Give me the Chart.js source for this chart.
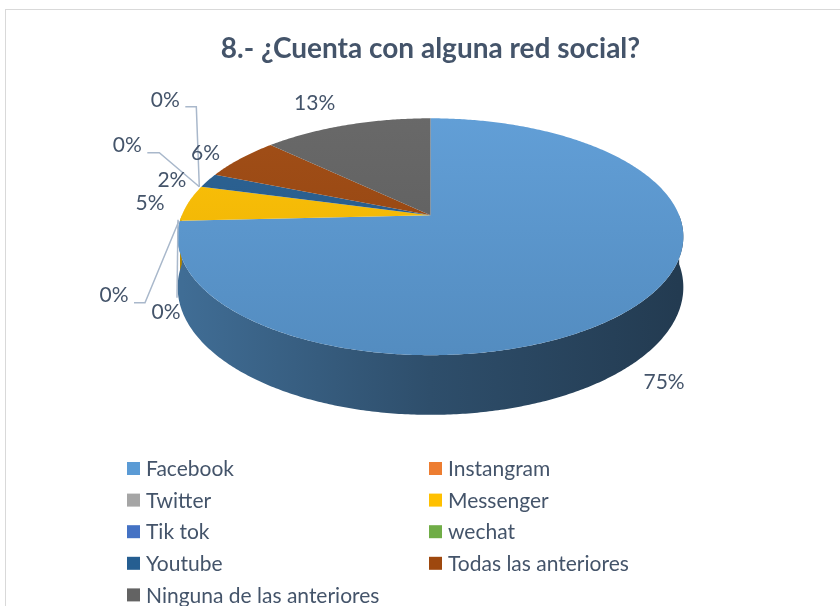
<!DOCTYPE html>
<html>
<head>
<meta charset="utf-8">
<script src="https://cdn.jsdelivr.net/npm/chart.js@4"></script>
<style>
	body { margin: 0; background: #fff; }
	#marco { position: absolute; left: 5px; top: 9px; width: 900px; height: 700px; border: 1px solid #d9d9d9; }
	#caja { position: absolute; left: 0; top: 0; width: 840px; height: 606px; }
</style>
</head>
<body>
<div id="marco"></div>
<div id="caja"><canvas id="torta"></canvas></div>
<script>
const categorias = ["Facebook", "Instangram", "Twitter", "Messenger", "Tik tok", "wechat", "Youtube", "Todas las anteriores", "Ninguna de las anteriores"];
const porcentajes = [75, 0, 0, 5, 0, 0, 2, 6, 13];
const colores = ["#5b9bd5", "#ed7d31", "#a5a5a5", "#ffc000", "#4472c4", "#70ad47", "#255e91", "#9e480e", "#636363"];

// inclinación del pastel 3D (relativa al radio que calcula Chart.js)
const INCL = { ax: 1.78, ay: 0.82, k: 0.181, alto: 0.35 };
const colorTexto = "#44546a";

// donde van las etiquetas respecto al borde de cada porción (estilo)
const posEtiquetas = [
	{ d: [28, 77] },
	{ d: [-14, 92], guia: [[-2, -1], [-3, 77]] },
	{ d: [-66, 75], guia: [[-1, 0], [-35, 82], [-46, 82]] },
	{ d: [-38, 0] },
	{ d: [-74, -41], guia: [[-2, 0], [-42, -34], [-54, -34]] },
	{ d: [-36, -86], guia: [[-2, 0], [-5, -80], [-16, -80]] },
	{ d: [-36, 0] },
	{ d: [-35, -5] },
	{ d: [-32, -22] }
];

function tono(hex, f) {
	let r = parseInt(hex.slice(1, 3), 16), g = parseInt(hex.slice(3, 5), 16), b = parseInt(hex.slice(5, 7), 16);
	if (f < 0) { r *= 1 + f; g *= 1 + f; b *= 1 + f; }
	else { r += (255 - r) * f; g += (255 - g) * f; b += (255 - b) * f; }
	return `rgb(${Math.round(r)}, ${Math.round(g)}, ${Math.round(b)})`;
}

function proyectar(arc, ang, abajo) {
	const u = Math.cos(ang), v = Math.sin(ang);
	const w = 1 - INCL.k * v;
	const R = arc.outerRadius;
	return {
		x: arc.x + R * INCL.ax * u / w,
		y: arc.y + R * INCL.ay * v / w + (abajo ? R * INCL.alto / w : 0)
	};
}

const pastel3d = {
	id: 'pastel3d',
	beforeDatasetsDraw(chart) {
		const ctx = chart.ctx;
		const arcos = chart.getDatasetMeta(0).data;
		const R = arcos[0].outerRadius, cx = arcos[0].x, cy = arcos[0].y;
		ctx.save();
		// lados (solo la mitad de adelante se ve)
		arcos.forEach((arc, i) => {
			const a = Math.max(arc.startAngle, 0), b = Math.min(arc.endAngle, Math.PI);
			if (b <= a) return;
			ctx.beginPath();
			for (let t = a; t <= b; t += 0.01) {
				const p = proyectar(arc, t, false);
				ctx.lineTo(p.x, p.y);
			}
			let p = proyectar(arc, b, false); ctx.lineTo(p.x, p.y);
			for (let t = b; t >= a; t -= 0.01) {
				p = proyectar(arc, t, true);
				ctx.lineTo(p.x, p.y);
			}
			p = proyectar(arc, a, true); ctx.lineTo(p.x, p.y);
			ctx.closePath();
			const grad = ctx.createLinearGradient(cx - R * INCL.ax, 0, cx + R * INCL.ax, 0);
			grad.addColorStop(0, tono(colores[i], -0.3));
			grad.addColorStop(0.5, tono(colores[i], -0.5));
			grad.addColorStop(1, tono(colores[i], -0.62));
			ctx.fillStyle = grad;
			ctx.fill();
		});
		// caras de arriba
		arcos.forEach((arc, i) => {
			if (arc.endAngle - arc.startAngle <= 0) return;
			ctx.beginPath();
			ctx.moveTo(arc.x, arc.y);
			for (let t = arc.startAngle; t <= arc.endAngle; t += 0.01) {
				const p = proyectar(arc, t, false);
				ctx.lineTo(p.x, p.y);
			}
			const p = proyectar(arc, arc.endAngle, false);
			ctx.lineTo(p.x, p.y);
			ctx.closePath();
			const grad = ctx.createLinearGradient(0, cy - R * INCL.ay * 0.9, 0, cy + R * INCL.ay * 1.7);
			grad.addColorStop(0, tono(colores[i], 0.04));
			grad.addColorStop(1, tono(colores[i], -0.12));
			ctx.fillStyle = grad;
			ctx.fill();
		});
		ctx.restore();
		return false;
	},
	afterDraw(chart) {
		const ctx = chart.ctx;
		const arcos = chart.getDatasetMeta(0).data;
		ctx.save();
		ctx.font = "21px Lato";
		ctx.textAlign = "center";
		ctx.textBaseline = "middle";
		arcos.forEach((arc, i) => {
			const ancla = proyectar(arc, (arc.startAngle + arc.endAngle) / 2, false);
			const pos = posEtiquetas[i];
			if (pos.guia) {
				ctx.beginPath();
				pos.guia.forEach(g => ctx.lineTo(ancla.x + g[0], ancla.y + g[1]));
				ctx.strokeStyle = "#a9b8cb";
				ctx.lineWidth = 1.5;
				ctx.stroke();
			}
			ctx.fillStyle = colorTexto;
			ctx.fillText(porcentajes[i] + "%", ancla.x + pos.d[0], ancla.y + pos.d[1]);
		});
		// leyenda en dos columnas
		ctx.textAlign = "left";
		categorias.forEach((nombre, i) => {
			const col = i % 2, fila = Math.floor(i / 2);
			const x = col === 0 ? 127 : 429;
			const y = 468.5 + fila * 31.6;
			ctx.fillStyle = colores[i];
			ctx.fillRect(x, y - 6.5, 13, 13);
			ctx.fillStyle = colorTexto;
			ctx.fillText(nombre, x + 19, y + 1);
		});
		ctx.restore();
	}
};

const torta = new Chart(document.getElementById("torta"), {
	type: 'pie',
	data: {
		labels: categorias,
		datasets: [{
			data: porcentajes,
			backgroundColor: colores,
			borderWidth: 0,
			hoverOffset: 0
		}]
	},
	options: {
		responsive: true,
		maintainAspectRatio: false,
		animation: false,
		layout: { padding: { top: 22, left: 21, bottom: 251 } },
		plugins: {
			legend: { display: false },
			tooltip: { enabled: false },
			title: {
				display: true,
				text: "8.- ¿Cuenta con alguna red social?",
				color: "#44546a",
				font: { family: "Lato", size: 28, weight: "bold" },
				padding: { top: 10, bottom: 10 }
			}
		}
	},
	plugins: [pastel3d]
});
</script>
</body>
</html>
